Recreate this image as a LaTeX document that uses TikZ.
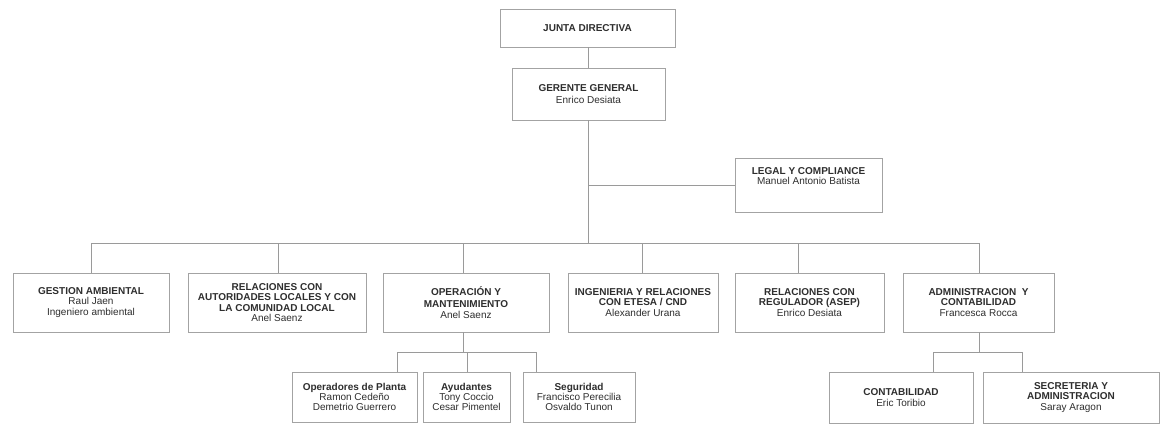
\documentclass[tikz,border=0pt]{standalone}
\usepackage{fontspec}
\setmainfont{Liberation Sans}
\begin{document}
\begin{tikzpicture}[x=1pt,y=-1pt,
  box/.style={draw=boxgray, line width=0.9pt, fill=white, inner sep=2pt, align=center,
    text=txtgray, font=\fontsize{10}{10.3}\selectfont},
  conn/.style={draw=linegray, line width=0.9pt}]
\definecolor{boxgray}{HTML}{A3A3A3}
\definecolor{linegray}{HTML}{9A9A9A}
\definecolor{txtgray}{HTML}{2E2E2E}
\useasboundingbox[fill=white] (0,0) rectangle (1164,424);

% level 0 / 1
\node[box, minimum width=175pt, minimum height=38pt] (junta) at (587.5,28) {\textbf{JUNTA DIRECTIVA}};
\node[box, minimum width=153pt, minimum height=52pt] (gerente) at (588.5,94) {\textbf{GERENTE GENERAL}\\[1pt]Enrico Desiata};
\node[box, minimum width=147pt, minimum height=54pt, anchor=north, inner ysep=9pt, text depth=19pt] (legal) at (808.5,158) {\textbf{LEGAL Y COMPLIANCE}\\Manuel Antonio Batista};

% level 2
\node[box, minimum width=156pt, minimum height=59pt] (gest) at (91,302.5) {\textbf{GESTION AMBIENTAL}\\Raul Jaen\\Ingeniero ambiental};
\node[box, minimum width=178pt, minimum height=59pt] (relaut) at (277,302.5) {\textbf{RELACIONES CON}\\\textbf{AUTORIDADES LOCALES Y CON}\\\textbf{LA COMUNIDAD LOCAL}\\Anel Saenz};
\node[box, minimum width=166pt, minimum height=59pt] (opman) at (466,302.5) {\textbf{OPERACIÓN Y}\\[2pt]\textbf{MANTENIMIENTO}\\Anel Saenz};
\node[box, minimum width=150pt, minimum height=59pt] (ing) at (643,302.5) {\textbf{INGENIERIA Y RELACIONES}\\\textbf{CON ETESA / CND}\\Alexander Urana};
\node[box, minimum width=149pt, minimum height=59pt] (relreg) at (809.5,302.5) {\textbf{RELACIONES CON}\\\textbf{REGULADOR (ASEP)}\\Enrico Desiata};
\node[box, minimum width=151pt, minimum height=59pt] (admin) at (978.5,302.5) {\textbf{ADMINISTRACION\ \ Y}\\\textbf{CONTABILIDAD}\\Francesca Rocca};

% level 3
\node[box, minimum width=125pt, minimum height=50pt] (oper) at (354.5,397) {\textbf{Operadores de Planta}\\Ramon Cedeño\\Demetrio Guerrero};
\node[box, minimum width=87pt, minimum height=50pt] (ayud) at (466.5,397) {\textbf{Ayudantes}\\Tony Coccio\\Cesar Pimentel};
\node[box, minimum width=112pt, minimum height=50pt] (segur) at (579,397) {\textbf{Seguridad}\\Francisco Perecilia\\Osvaldo Tunon};
\node[box, minimum width=144pt, minimum height=51pt] (conta) at (901,397.5) {\textbf{CONTABILIDAD}\\Eric Toribio};
\node[box, minimum width=176pt, minimum height=51pt] (secre) at (1071,397.5) {\textbf{SECRETERIA Y}\\\textbf{ADMINISTRACION}\\Saray Aragon};

% bus coordinates
\coordinate (legalj) at (588,185);
\coordinate (busL) at (91,243);
\coordinate (busR) at (979,243);
\coordinate (busM) at (588,243);
\coordinate (d1) at (91,243);
\coordinate (d2) at (278,243);
\coordinate (d3) at (463,243);
\coordinate (d4) at (642,243);
\coordinate (d5) at (798,243);
\coordinate (d6) at (979,243);
\coordinate (s1) at (397,352);
\coordinate (s2) at (467,352);
\coordinate (s3) at (536,352);
\coordinate (s0) at (463,352);
\coordinate (t1) at (933,352);
\coordinate (t2) at (1022,352);
\coordinate (t0) at (979,352);

% connectors
\draw[conn] (junta.south -| legalj) -- (gerente.north -| legalj);
\draw[conn] (gerente.south -| legalj) -- (busM);
\draw[conn] (legalj) -- (legal.west |- legalj);
\draw[conn] (busL) -- (busR);
\draw[conn] (d1) -- (d1 |- gest.north);
\draw[conn] (d2) -- (d2 |- relaut.north);
\draw[conn] (d3) -- (d3 |- opman.north);
\draw[conn] (d4) -- (d4 |- ing.north);
\draw[conn] (d5) -- (d5 |- relreg.north);
\draw[conn] (d6) -- (d6 |- admin.north);

\draw[conn] (opman.south -| s0) -- (s0);
\draw[conn] (s1) -- (s3);
\draw[conn] (s1) -- (s1 |- oper.north);
\draw[conn] (s2) -- (s2 |- ayud.north);
\draw[conn] (s3) -- (s3 |- segur.north);

\draw[conn] (admin.south -| t0) -- (t0);
\draw[conn] (t1) -- (t2);
\draw[conn] (t1) -- (t1 |- conta.north);
\draw[conn] (t2) -- (t2 |- secre.north);
\end{tikzpicture}
\end{document}
